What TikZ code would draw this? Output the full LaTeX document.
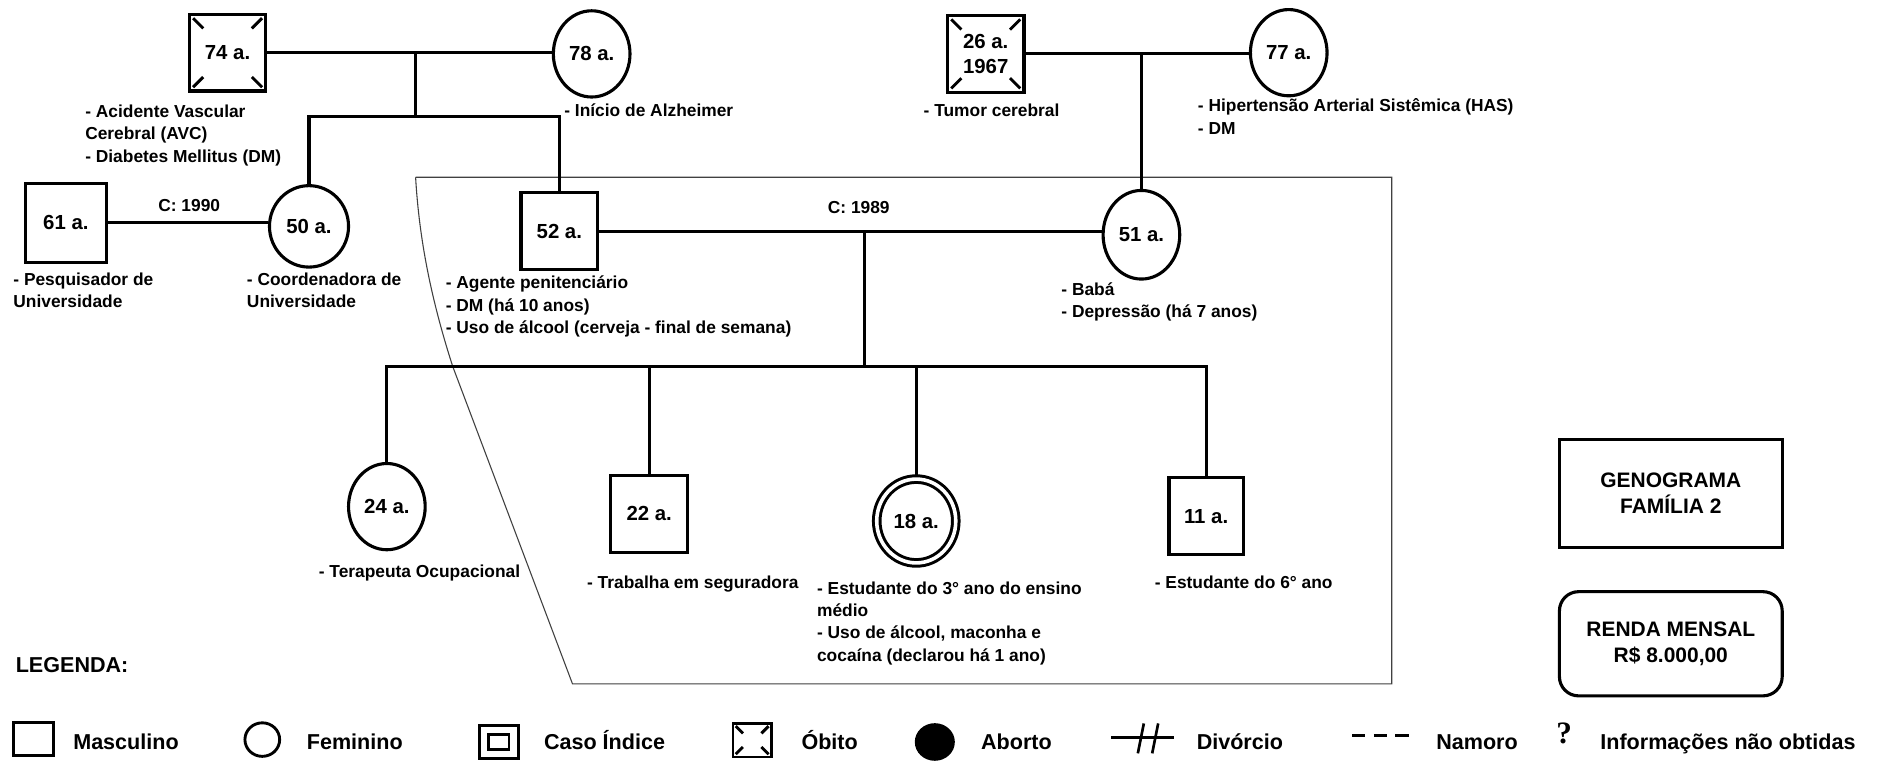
\documentclass[tikz,border=0pt]{standalone}
\usepackage{fontspec}
\setmainfont{Liberation Sans}
\newfontfamily\qfont{Liberation Serif}
\usetikzlibrary{shapes.geometric,calc}
\tikzset{
  rel/.style={line width=2.6pt},
  symb/.style={draw, line width=2.6pt, inner sep=0pt, align=center, font=\fontsize{17}{21}\selectfont\bfseries},
  male/.style={symb, rectangle, minimum width=64pt, minimum height=64pt},
  female/.style={symb, ellipse, minimum width=64pt, minimum height=72pt},
  note/.style={anchor=base west, align=left, inner sep=0pt, font=\fontsize{14.5}{18.7}\selectfont\bfseries},
  clabel/.style={inner sep=0pt, font=\fontsize{14.5}{18}\selectfont\bfseries},
  deathmark/.style={line width=2.4pt},
  household/.style={line width=0.9pt, draw=black!75},
  infobox/.style={draw, line width=2.6pt, minimum width=186pt, minimum height=90pt, align=center, font=\fontsize{17.5}{22}\selectfont\bfseries},
  legsym/.style={draw, line width=2.4pt, inner sep=0pt},
  legtext/.style={anchor=base west, inner sep=0pt, font=\fontsize{18}{20}\selectfont\bfseries},
}
\newcommand{\obitomarks}[3]{%
  \draw[deathmark] ($(#1.north west)+(#2,#2)$) -- ++(#3,#3);
  \draw[deathmark] ($(#1.north east)+(-#2,#2)$) -- ++(-#3,#3);
  \draw[deathmark] ($(#1.south west)+(#2,-#2)$) -- ++(#3,-#3);
  \draw[deathmark] ($(#1.south east)+(-#2,-#2)$) -- ++(-#3,-#3);}
\begin{document}
\begin{tikzpicture}[x=1pt,y=-1pt]
\fill[white] (0,0) rectangle (1568,637);
\useasboundingbox (0,0) rectangle (1568,637);

% household boundary
\draw[household] (347,148) -- (1162,148) -- (1162,571) -- (478,571) -- (378,306) .. controls (360,250) and (350,200) .. (347,148);

% grandparents (paternal)
\node[male] (sq74) at (190,44) {74 a.};
\obitomarks{sq74}{4.5}{8.5}
\node[female] (c78) at (494,45) {78 a.};
\draw[rel] (sq74.east) -- (sq74.east -| c78.west);
\coordinate (u1) at (347,44);
\coordinate (s1) at (347,97);
\draw[rel] (u1) -- (s1);

% second generation left
\node[female, minimum width=66pt, minimum height=68pt] (c50) at (258,189) {50 a.};
\node[male] (sq52) at (467,193) {52 a.};
\draw[rel] (c50.north) |- (s1) -| (sq52.north);
\node[male, minimum width=68pt, minimum height=66pt] (sq61) at (55,186) {61 a.};
\draw[rel] (sq61.east) -- (sq61.east -| c50.west);
\node[clabel] (cl1) at (158,172) {C: 1990};

% grandparents (maternal)
\node[male] (sq26) at (823,45) {26 a.\\1967};
\obitomarks{sq26}{4.5}{8.5}
\node[female] (c77) at (1076,44) {77 a.};
\draw[rel] (sq26.east) -- (sq26.east -| c77.west);
\coordinate (u2) at (953,44);
\node[female, minimum height=74pt] (c51) at (953,196) {51 a.};
\draw[rel] (u2) -- (c51.north);

% couple 52-51
\draw[rel] (sq52.east) -- (sq52.east -| c51.west);
\node[clabel] (cl2) at (717,173) {C: 1989};
\coordinate (u3) at (722,193);
\coordinate (s2) at (722,306);
\draw[rel] (u3) -- (s2);

% children
\node[female] (c24) at (323,423) {24 a.};
\node[male] (sq22) at (542,429) {22 a.};
\node[female, double, double distance=3pt, line width=2.5pt, outer sep=2pt, minimum width=66pt, minimum height=70pt] (c18) at (765,435) {18 a.};
\node[male, minimum width=62pt] (sq11) at (1007,431) {11 a.};
\draw[rel] (c24.north) |- (s2) -| (sq11.north);
\draw[rel] (sq22.north) -- (sq22.north |- s2);
\draw[rel] (c18.north) -- (c18.north |- s2);

% notes (anchor = baseline of the last line)
\node[note] (n74) at (71,135.4) {- Acidente Vascular\\Cerebral (AVC)\\- Diabetes Mellitus (DM)};
\node[note] (n78) at (471,97) {- Início de Alzheimer};
\node[note] (n26) at (771,97) {- Tumor cerebral};
\node[note] (n77) at (1000,112.2) {- Hipertensão Arterial Sistêmica (HAS)\\- DM};
\node[note] (n61) at (11,256.7) {- Pesquisador de\\Universidade};
\node[note] (n50) at (206,256.7) {- Coordenadora de\\Universidade};
\node[note] (n52) at (372,278.4) {- Agente penitenciário\\- DM (há 10 anos)\\- Uso de álcool (cerveja - final de semana)};
\node[note] (n51) at (886,265.2) {- Babá\\- Depressão (há 7 anos)};
\node[note] (n24) at (266,482) {- Terapeuta Ocupacional};
\node[note] (n22) at (490,491) {- Trabalha em seguradora};
\node[note] (n18) at (682,552.1) {- Estudante do 3° ano do ensino\\médio\\- Uso de álcool, maconha e\\cocaína (declarou há 1 ano)};
\node[note] (n11) at (964,491.5) {- Estudante do 6° ano};

% info boxes
\node[infobox] (gen) at (1395,412) {GENOGRAMA\\FAMÍLIA 2};
\node[infobox, rounded corners=16pt, minimum height=87pt] (renda) at (1395,537.5) {RENDA MENSAL\\R\$ 8.000,00};

% legend
\node[legtext] (legtitle) at (13,561.5) {LEGENDA:};
\node[legsym, minimum width=33pt, minimum height=27pt] (lm) at (28,617) {};
\node[legtext] (tm) at (61,626) {Masculino};
\node[legsym, ellipse, minimum width=29pt, minimum height=28pt] (lf) at (219,617.5) {};
\node[legtext] (tf) at (256,626) {Feminino};
\node[legsym, minimum width=33pt, minimum height=28pt] (li) at (416.5,619.5) {};
\node[legsym, minimum width=17pt, minimum height=12pt] (li2) at (416.5,619.5) {};
\node[legtext] (ti) at (454,626) {Caso Índice};
\node[legsym, minimum width=32pt, minimum height=28pt] (lo) at (628,618) {};
\obitomarks{lo}{3.5}{6}
\node[legtext] (to) at (669,626) {Óbito};
\node[legsym, ellipse, fill=black, minimum width=31pt, minimum height=29pt] (la) at (780.5,619.5) {};
\node[legtext] (ta) at (819,626) {Aborto};
\coordinate (d1) at (928,616);
\coordinate (d2) at (980,616);
\draw[rel] (d1) -- (d2);
\draw[line width=2.2pt] (950,629) -- (955,604);
\draw[line width=2.2pt] (962,629) -- (967,604);
\node[legtext] (td) at (999,626) {Divórcio};
\draw[line width=3pt, dash pattern=on 11pt off 7pt] (1129,614) -- (1176,614);
\node[legtext] (tn) at (1199,626) {Namoro};
\node[inner sep=0pt, font=\qfont\fontsize{26}{28}\selectfont\bfseries] (tq) at (1306,612) {?};
\node[legtext] (tinfo) at (1336,626) {Informações não obtidas};
\end{tikzpicture}
\end{document}
